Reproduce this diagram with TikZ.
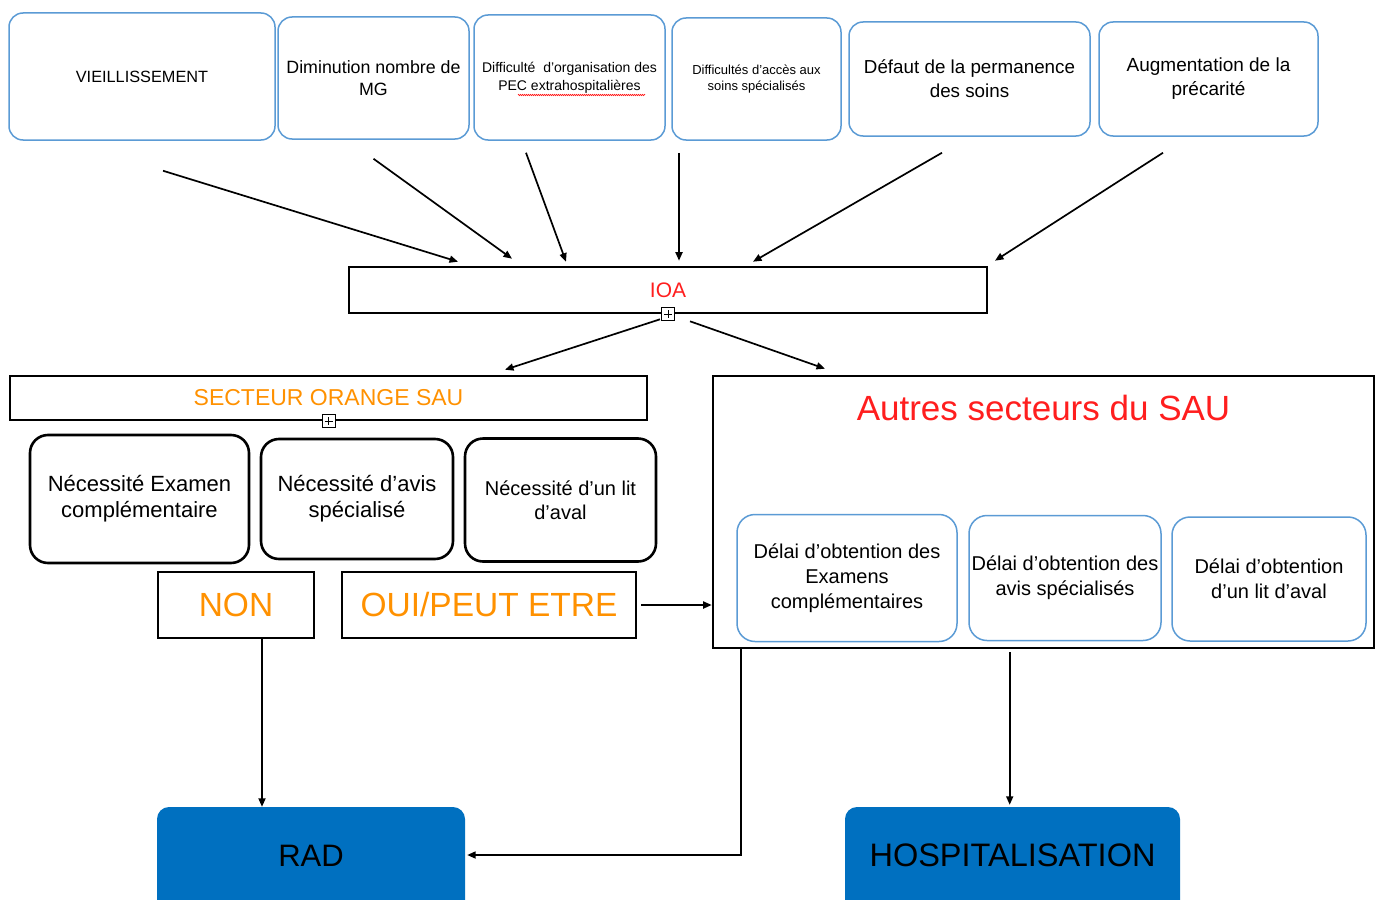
\documentclass[tikz,border=0pt]{standalone}
\usepackage{fontspec}
\setmainfont{Liberation Sans}
\usetikzlibrary{arrows.meta,decorations.pathmorphing}
\definecolor{causeblue}{RGB}{91,155,213}
\definecolor{radblue}{RGB}{0,112,192}
\definecolor{sauorange}{RGB}{255,145,0}
\definecolor{ioared}{RGB}{255,30,30}
\tikzset{
    cause-box/.style = {draw=causeblue, fill=white, line width=1.5pt, rectangle, rounded corners=14pt, align=center, inner sep=1pt},
    frame-box/.style = {draw=black, fill=white, line width=2.6pt, rectangle, inner sep=0pt},
    need-box/.style = {draw=black, fill=white, line width=2.6pt, rectangle, rounded corners=18pt, align=center, inner sep=1pt, font=\fontsize{22}{26}\selectfont},
    delay-box/.style = {draw=causeblue, fill=white, line width=1.5pt, rectangle, rounded corners=18pt, align=center, inner sep=1pt, font=\fontsize{20}{25}\selectfont},
    outcome-box/.style = {fill=radblue, rectangle, rounded corners=12pt, text=black, font=\fontsize{31}{36}\selectfont, text height=22pt, text depth=14pt, minimum height=110pt},
    answer-box/.style = {frame-box, text=sauorange, font=\fontsize{33.5}{38}\selectfont, minimum height=66pt},
    plus-mark/.style = {draw=black, fill=white, line width=0.9pt, minimum size=13pt, inner sep=0pt,
        path picture={\draw[line width=0.9pt] ([yshift=-2.5pt]path picture bounding box.north) -- ([yshift=2.5pt]path picture bounding box.south);
                      \draw[line width=0.9pt] ([xshift=2.5pt]path picture bounding box.west) -- ([xshift=-2.5pt]path picture bounding box.east);}},
    flow-arrow/.style = {-{Triangle[length=8.5pt,width=7pt]}, line width=1.7pt},
}

\begin{document}
\begin{tikzpicture}[x=1pt, y=-1pt]
\useasboundingbox (0,0) rectangle (1383,899);
\clip (0,0) rectangle (1383,899);

% causes
\node [cause-box, minimum width=266pt, minimum height=127pt, font=\fontsize{16.3}{20}\selectfont] (vieil) at (142,76.5) {VIEILLISSEMENT};
\node [cause-box, minimum width=191pt, minimum height=122pt, font=\fontsize{17.8}{22}\selectfont] (mg) at (373.5,78) {Diminution nombre de\\MG};
\node [cause-box, minimum width=191pt, minimum height=125pt, font=\fontsize{14}{18}\selectfont] (pec) at (569.5,77.5) {Difficulté\ \ d’organisation des\\PEC extrahospitalières};
\node [cause-box, minimum width=169pt, minimum height=122pt, font=\fontsize{13}{16}\selectfont] (acces) at (756.5,79) {Difficultés d’accès aux\\soins spécialisés};
\node [cause-box, minimum width=241pt, minimum height=114pt, font=\fontsize{18.8}{24}\selectfont] (garde) at (969.5,79) {Défaut de la permanence\\des soins};
\node [cause-box, minimum width=219pt, minimum height=114pt, font=\fontsize{19}{24}\selectfont] (precarite) at (1208.5,79) {Augmentation de la\\précarité};
\draw [ioared, line width=0.6pt, decorate, decoration={zigzag, amplitude=0.7pt, segment length=2pt}] (518,95) -- (645,95);

% IOA
\node [frame-box, minimum width=638pt, minimum height=46pt, text=ioared, font=\fontsize{21}{25}\selectfont] (ioa) at (668,290) {IOA};
\node [plus-mark] (ioaplus) at (ioa.south) {};

\draw [flow-arrow] ([xshift=21pt,yshift=-30pt]vieil.south) -- ([xshift=-210pt,yshift=4pt]ioa.north);
\draw [flow-arrow] ([yshift=-19pt]mg.south) -- ([xshift=-156pt,yshift=7pt]ioa.north);
\draw [flow-arrow] ([xshift=-43.5pt,yshift=-12pt]pec.south) -- ([xshift=-102pt,yshift=4pt]ioa.north);
\draw [flow-arrow] ([xshift=-77.5pt,yshift=-12pt]acces.south) -- ([xshift=11pt,yshift=5pt]ioa.north);
\draw [flow-arrow] ([xshift=-27.5pt,yshift=-16pt]garde.south) -- ([xshift=85pt,yshift=4pt]ioa.north);
\draw [flow-arrow] ([xshift=-45.5pt,yshift=-16pt]precarite.south) -- ([xshift=327pt,yshift=5pt]ioa.north);

% secteur orange
\node [frame-box, minimum width=637pt, minimum height=44pt, text=sauorange, font=\fontsize{23}{27}\selectfont] (orange) at (328.5,398) {SECTEUR ORANGE SAU};
\node [plus-mark] (orangeplus) at (orange.south) {};
\node [need-box, minimum width=219pt, minimum height=128pt] (examen) at (139.5,499) {Nécessité Examen\\complémentaire};
\node [need-box, minimum width=192pt, minimum height=120pt] (avis) at (357,499) {Nécessité d’avis\\spécialisé};
\node [need-box, minimum width=191pt, minimum height=123pt, font=\fontsize{20}{24}\selectfont] (lit) at (560.5,500) {Nécessité d’un lit\\d’aval};
\node [answer-box, minimum width=156pt] (non) at (236,605) {NON};
\node [answer-box, minimum width=294pt] (oui) at (489,605) {OUI/PEUT ETRE};

% autres secteurs
\node [frame-box, minimum width=661pt, minimum height=272pt] (autres) at (1043.5,512) {};
\node [text=ioared, font=\fontsize{35}{40}\selectfont] (autrestitle) at ([yshift=-33pt]autres.north) {Autres secteurs du SAU};
\node [delay-box, minimum width=220pt, minimum height=127pt] (delaiexamen) at (847,578) {Délai d’obtention des\\Examens\\complémentaires};
\node [delay-box, minimum width=192pt, minimum height=125pt] (delaiavis) at (1065,578) {Délai d’obtention des\\avis spécialisés};
\node [delay-box, minimum width=194pt, minimum height=124pt] (delailit) at (1269,579) {Délai d’obtention\\d’un lit d’aval};

\draw [flow-arrow] ([xshift=-8pt,yshift=-5pt]ioa.south) -- ([xshift=176.5pt,yshift=5pt]orange.north);
\draw [flow-arrow] ([xshift=22pt,yshift=-7pt]ioa.south) -- ([xshift=-218.5pt,yshift=6pt]autres.north);
\draw [flow-arrow] ([xshift=4pt]oui.east) -- (oui.east -| autres.west);

% sorties
\node [outcome-box, minimum width=308pt] (rad) at (311,862) {RAD};
\node [outcome-box, minimum width=335pt, font=\fontsize{32.5}{37}\selectfont] (hosp) at (1012.5,862) {HOSPITALISATION};

\coordinate (nonout) at ([xshift=26pt]non.south);
\coordinate (retour) at ([xshift=29pt]autres.south west);
\coordinate (hospin) at ([xshift=298pt,yshift=-3pt]autres.south west);
\draw [flow-arrow] (nonout) -- (nonout |- rad.north);
\draw [flow-arrow] (retour) |- ([yshift=7pt,xshift=2pt]rad.east);
\draw [flow-arrow] (hospin) -- ([yshift=2pt]hospin |- hosp.north);
\end{tikzpicture}
\end{document}
